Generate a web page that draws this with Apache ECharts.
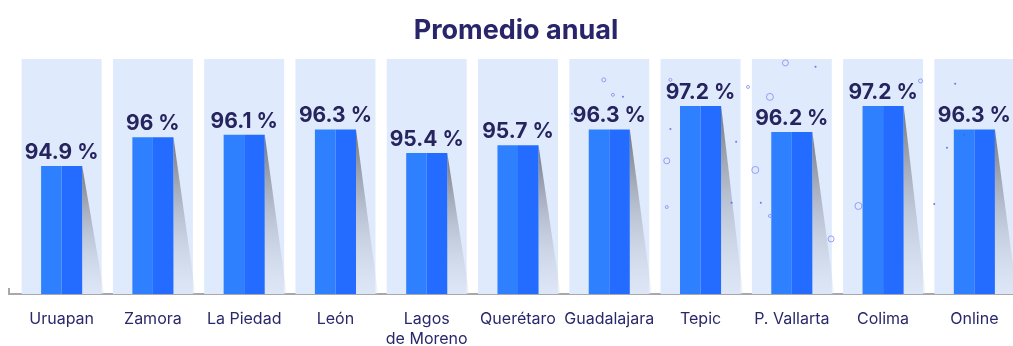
<!DOCTYPE html>
<html>
<head>
<meta charset="utf-8">
<script src="https://cdn.jsdelivr.net/npm/echarts@6/dist/echarts.min.js"></script>
<style>
  html, body { margin: 0; padding: 0; background: #ffffff; }
  #chart { width: 1013px; height: 346px; }
</style>
</head>
<body>
<div id="chart"></div>
<script>
// Annual average per campus (percent)
const campuses = ['Uruapan', 'Zamora', 'La Piedad', 'León', 'Lagos\nde Moreno', 'Querétaro',
                  'Guadalajara', 'Tepic', 'P. Vallarta', 'Colima', 'Online'];
const promedio = [94.9, 96, 96.1, 96.3, 95.4, 95.7, 96.3, 97.2, 96.2, 97.2, 96.3];
const axisMin = 90;
const axisMax = 99;

// Decorative floating bubbles: [campus position, value level, radius]
const bubbles = [
  [5.94, 98.20, 2], [6.04, 97.63, 1.5], [6.67, 98.20, 1.5], [6.63, 95.10, 3],
  [6.63, 93.33, 1.5], [7.52, 97.93, 1.5], [7.76, 97.55, 3.5], [7.93, 98.85, 3],
  [7.60, 94.75, 3.5], [7.76, 92.99, 1.5], [8.43, 92.11, 3], [8.73, 93.37, 3.5],
  [9.41, 98.16, 2]
];
const dots = [
  [6.67, 96.32], [7.66, 93.49], [7.39, 95.83], [7.34, 93.49], [6.15, 97.55],
  [5.59, 96.90], [9.08, 96.90], [9.05, 95.55], [9.56, 93.45], [9.70, 95.60],
  [9.89, 96.10], [9.79, 98.05], [8.26, 98.70]
];

const chart = echarts.init(document.getElementById('chart'));

function renderColumn(params, api) {
  const idx = api.value(0);
  const val = api.value(1);
  const top = api.coord([idx, val]);
  const base = api.coord([idx, axisMin]);
  const ceil = api.coord([idx, axisMax]);
  const band = api.size([1, 0])[0];
  const cx = top[0];
  const bgW = band * 0.876;
  const barW = band * 0.45;
  const half = barW / 2;
  const shadowW = 22;
  return {
    type: 'group',
    children: [
      { // pale backdrop column
        type: 'rect',
        shape: { x: cx - bgW / 2, y: ceil[1], width: bgW, height: base[1] - ceil[1] },
        style: { fill: '#dfeafc' }
      },
      { // cast shadow to the right of the bar
        type: 'polygon',
        shape: { points: [[cx + half, top[1]], [cx + half, base[1]], [cx + half + shadowW, base[1]]] },
        style: {
          fill: new echarts.graphic.LinearGradient(0, 0, 0, 1, [
            { offset: 0, color: 'rgba(110,110,115,0.95)' },
            { offset: 0.5, color: 'rgba(160,168,185,0.6)' },
            { offset: 1, color: 'rgba(215,222,235,0.3)' }
          ])
        }
      },
      { // lit face
        type: 'rect',
        shape: { x: cx - half, y: top[1], width: half, height: base[1] - top[1] },
        style: { fill: '#2e80ff' }
      },
      { // shaded face
        type: 'rect',
        shape: { x: cx, y: top[1], width: half, height: base[1] - top[1] },
        style: { fill: '#246cff' }
      },
      { // value label
        type: 'text',
        x: cx,
        y: top[1] - 3,
        style: {
          text: val + ' %',
          fill: '#26245e',
          font: 'bold 21px Inter',
          align: 'center',
          verticalAlign: 'bottom'
        }
      }
    ]
  };
}

chart.setOption({
  animation: false,
  title: {
    text: 'Promedio anual',
    left: 511,
    textAlign: 'center',
    top: 12,
    textStyle: { fontFamily: 'Inter', fontWeight: 'bold', fontSize: 27, color: '#28256a' }
  },
  grid: { left: 16, right: -7, top: 59, bottom: 52, outerBoundsMode: 'none', containLabel: false },
  xAxis: [{
    type: 'category',
    data: campuses,
    axisLine: { show: true, lineStyle: { color: '#a8a8ac', width: 2 } },
    axisTick: { show: false },
    axisLabel: {
      interval: 0,
      color: '#28286c',
      fontFamily: 'Inter',
      fontSize: 16,
      lineHeight: 20,
      margin: 15,
      verticalAlign: 'top'
    }
  }, {
    type: 'value',
    min: -0.5,
    max: 10.5,
    show: false
  }],
  yAxis: {
    type: 'value',
    min: axisMin,
    max: axisMax,
    show: false,
    splitLine: { show: false }
  },
  graphic: [{
    type: 'polyline',
    shape: { points: [[9, 288], [9, 294], [17, 294]] },
    style: { stroke: '#a8a8ac', lineWidth: 2, fill: null },
    silent: true
  }],
  series: [{
    type: 'custom',
    renderItem: renderColumn,
    data: promedio.map((v, i) => [i, v]),
    clip: false
  }, {
    type: 'scatter',
    xAxisIndex: 1,
    data: bubbles,
    symbol: 'circle',
    symbolSize: d => d[2] * 2,
    itemStyle: { color: 'rgba(255,255,255,0)', borderColor: '#7f8cf2', borderWidth: 1 },
    silent: true,
    z: 3
  }, {
    type: 'scatter',
    xAxisIndex: 1,
    data: dots,
    symbol: 'circle',
    symbolSize: 2,
    itemStyle: { color: '#4a5be8' },
    silent: true,
    z: 3
  }]
});
</script>
</body>
</html>
